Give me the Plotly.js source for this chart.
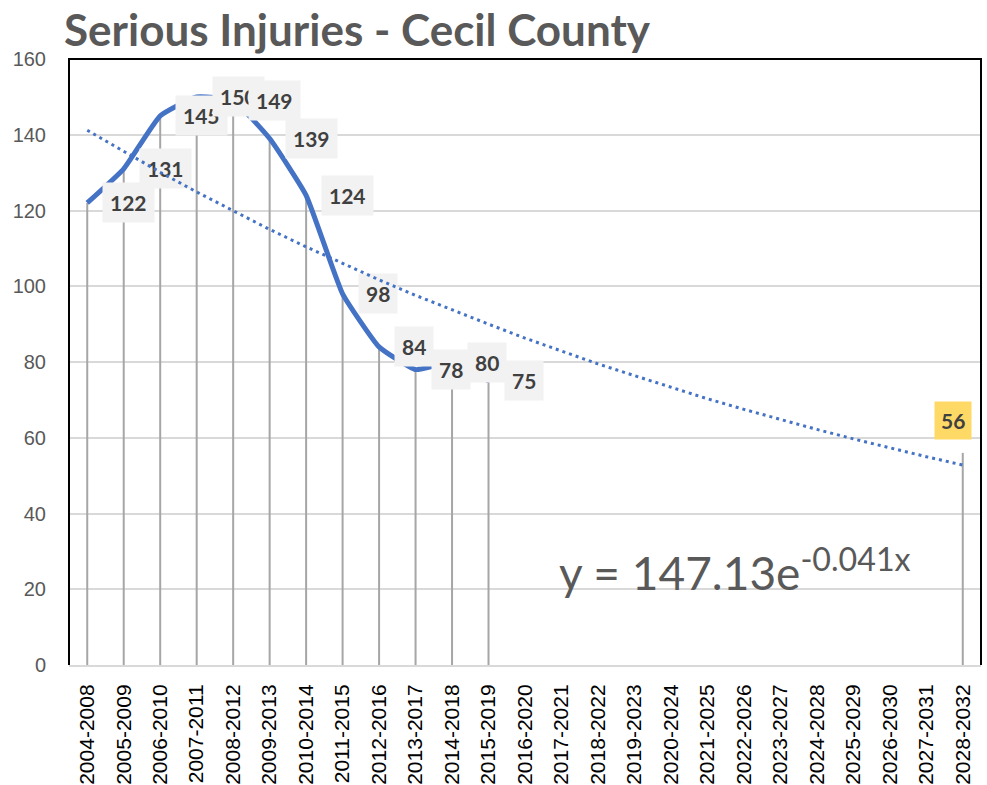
<!DOCTYPE html>
<html>
<head>
<meta charset="utf-8">
<script src="https://cdn.plot.ly/plotly-3.0.1.min.js"></script>
<style>
  html, body { margin: 0; padding: 0; background: #ffffff; }
  #wrap { position: relative; width: 987px; height: 785px; }
  #base, #top { position: absolute; left: 0; top: 0; width: 987px; height: 785px; }
  #top { pointer-events: none; }
</style>
</head>
<body>
<div id="wrap">
  <div id="base"></div>
  <div id="top"></div>
</div>
<script>
// ---- data ----
const categories = [
  "2004-2008","2005-2009","2006-2010","2007-2011","2008-2012","2009-2013",
  "2010-2014","2011-2015","2012-2016","2013-2017","2014-2018","2015-2019",
  "2016-2020","2017-2021","2018-2022","2019-2023","2020-2024","2021-2025",
  "2022-2026","2023-2027","2024-2028","2025-2029","2026-2030","2027-2031",
  "2028-2032"
];
const actualCats = categories.slice(0, 12);
const actualValues = [122, 131, 145, 150, 149, 139, 124, 98, 84, 78, 80, 75];
const goalCats = ["2028-2032"];
const goalValues = [56];
// exponential trendline values (y = 147.13e^-0.041x)
const trendValues = [141.2, 135.6, 130.1, 124.9, 119.9, 115.0, 110.4, 106.0, 101.7, 97.6,
  93.7, 90.0, 86.3, 82.9, 79.5, 76.4, 73.3, 70.3, 67.5, 64.8, 62.2, 59.7, 57.3, 55.0, 52.8];
const titleText = "Serious Injuries - Cecil County";
const equationText = "y = 147.13e<sup>-0.041x</sup>";

// ---- shared geometry ----
const W = 987, H = 785;
const margin = { l: 69, r: 6, t: 59, b: 120, pad: 0 };
const xRange = [-0.5, categories.length - 0.5];
const yRange = [0, 160];

// drop lines
const dropX = [], dropY = [];
function addDrops(cats, vals) {
  cats.forEach((c, i) => { dropX.push(c, c, null); dropY.push(0, vals[i], null); });
}
addDrops(actualCats, actualValues);
addDrops(goalCats, goalValues);

const baseTraces = [
  { x: dropX, y: dropY, type: "scatter", mode: "lines",
    line: { color: "#a6a6a6", width: 2 }, hoverinfo: "skip", showlegend: false },
  { x: actualCats, y: actualValues, type: "scatter", mode: "lines",
    line: { color: "#4472c4", width: 5, shape: "spline", smoothing: 0.4 },
    showlegend: false },
  { x: goalCats, y: goalValues, type: "scatter", mode: "lines",
    line: { color: "#4472c4", width: 5 }, showlegend: false }
];

const labelFont = { family: "Lato, 'Open Sans', sans-serif", size: 21, color: "#404040", weight: "bold" };
const annotations = actualCats.map((c, i) => ({
  x: c, y: actualValues[i], xref: "x", yref: "y",
  text: "<b>" + actualValues[i] + "</b>", showarrow: false,
  xanchor: "left", yanchor: "middle", xshift: 15,
  bgcolor: "#f2f2f2", borderpad: 7, font: labelFont
}));
goalCats.forEach((c, i) => annotations.push({
  x: c, y: goalValues[i], xref: "x", yref: "y",
  text: "<b>" + goalValues[i] + "</b>", showarrow: false,
  xanchor: "center", yanchor: "bottom", xshift: -10, yshift: 13,
  bgcolor: "#ffd966", borderpad: 6, font: labelFont
}));
annotations.push({
  xref: "paper", yref: "paper", x: 0.535, y: 0.158, xanchor: "left", yanchor: "middle",
  text: equationText, showarrow: false,
  font: { family: "Lato, 'Open Sans', sans-serif", size: 46, color: "#595959" }
});

const baseLayout = {
  width: W, height: H, margin: margin,
  paper_bgcolor: "#ffffff", plot_bgcolor: "#ffffff",
  title: {
    text: "<b>" + titleText + "</b>",
    x: 64 / W, xanchor: "left", xref: "container",
    y: 1 - 31 / H, yanchor: "middle", yref: "container",
    font: { family: "Lato, 'Open Sans', sans-serif", size: 44, color: "#595959" }
  },
  xaxis: {
    type: "category", categoryorder: "array", categoryarray: categories,
    tickvals: categories, ticktext: categories,
    range: xRange, showgrid: false, zeroline: false,
    showline: true, linecolor: "#d9d9d9", linewidth: 2,
    tickangle: -90, ticklabelstandoff: 9,
    tickfont: { family: "'Liberation Sans', Arial, sans-serif", size: 21, color: "#000000" },
    automargin: false
  },
  yaxis: {
    range: yRange, dtick: 20, tick0: 0,
    showgrid: true, gridcolor: "#d9d9d9", gridwidth: 2,
    zeroline: false, showline: false, ticklabelstandoff: 22,
    tickfont: { family: "'Liberation Sans', Arial, sans-serif", size: 20, color: "#595959" },
    automargin: false
  },
  shapes: [
    { type: "path", xref: "paper", yref: "paper", path: "M 0,0 L 0,1 L 1,1 L 1,0",
      line: { color: "#000000", width: 2 }, layer: "above" }
  ],
  annotations: annotations,
  showlegend: false
};

Plotly.newPlot("base", baseTraces, baseLayout, { displayModeBar: false, staticPlot: true });

// top layer: dotted exponential trendline drawn above the label boxes
const topTraces = [
  { x: categories, y: trendValues, type: "scatter", mode: "lines",
    line: { color: "#4472c4", width: 3, dash: "3px,4px" }, showlegend: false }
];
const topLayout = {
  width: W, height: H, margin: margin,
  paper_bgcolor: "rgba(0,0,0,0)", plot_bgcolor: "rgba(0,0,0,0)",
  xaxis: { type: "category", categoryorder: "array", categoryarray: categories,
    range: xRange, visible: false, automargin: false },
  yaxis: { range: yRange, visible: false, automargin: false },
  showlegend: false
};
Plotly.newPlot("top", topTraces, topLayout, { displayModeBar: false, staticPlot: true });
</script>
</body>
</html>
